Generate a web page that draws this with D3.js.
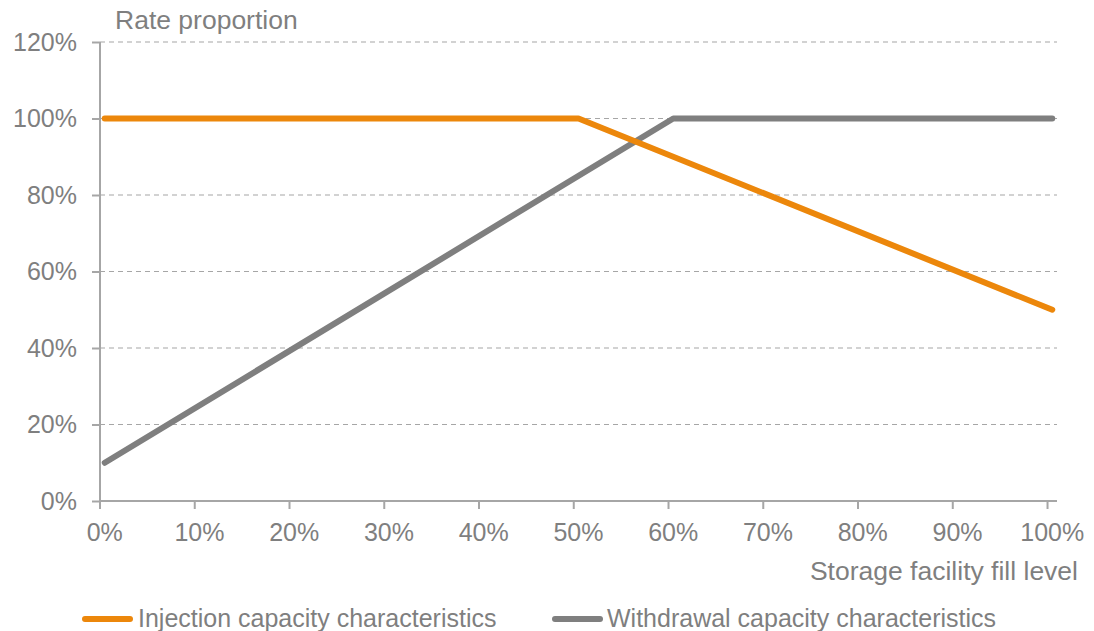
<!DOCTYPE html>
<html><head><meta charset="utf-8">
<script src="https://cdn.jsdelivr.net/npm/d3@7"></script>
<style>body{margin:0;background:#fff}svg{display:block;font-family:"Liberation Sans",Arial,sans-serif}</style>
</head><body>
<svg id="c" width="1094" height="631"></svg>
<script>
// Data (fill level in %, rate proportion in %)
const categories = d3.range(0, 101); // 0%..100% category axis
const xTickLabels = [0,10,20,30,40,50,60,70,80,90,100];
const yTickValues = [0,20,40,60,80,100,120];
const injectionX = [0, 50, 100];
const injectionY = [100, 100, 50];
const withdrawalX = [0, 60, 100];
const withdrawalY = [10, 100, 100];
const seriesNames = ["Injection capacity characteristics", "Withdrawal capacity characteristics"];
const seriesColors = ["#ec870b", "#7f7f7f"];

const svg = d3.select("#c");
const textColor = "#7f7f7f", axisColor = "#a6a6a6", fs = 25, titleFs = 26.5;

const x = d3.scaleBand().domain(categories).range([100, 1057]).padding(0);
const xc = v => x(v) + x.bandwidth() / 2;
const y = d3.scaleLinear().domain([0, 120]).range([501, 42]);

// gridlines
svg.append("g").selectAll("line").data(yTickValues.filter(v => v > 0)).join("line")
  .attr("x1", 100).attr("x2", 1057).attr("y1", d => y(d)).attr("y2", d => y(d))
  .attr("stroke", "#a6a6a6").attr("stroke-width", 1.2).attr("stroke-dasharray", "5,4");

// y axis
const yAxis = svg.append("g").attr("transform", "translate(100,0)")
  .call(d3.axisLeft(y).tickValues(yTickValues).tickFormat(d => d + "%").tickSize(8).tickPadding(15));
yAxis.select(".domain").remove();
yAxis.selectAll(".tick line").attr("stroke", axisColor).attr("stroke-width", 2);
yAxis.selectAll(".tick text").attr("fill", textColor).attr("font-size", fs).attr("font-family", "Liberation Sans, Arial, sans-serif");
svg.append("line").attr("x1", 100).attr("x2", 100).attr("y1", y(120)).attr("y2", y(0))
  .attr("stroke", axisColor).attr("stroke-width", 2);

// x axis
svg.append("line").attr("x1", 100).attr("x2", 1057).attr("y1", y(0)).attr("y2", y(0))
  .attr("stroke", axisColor).attr("stroke-width", 2);
const xg = svg.append("g");
xg.selectAll("line").data(xTickLabels).join("line")
  .attr("x1", d => x(d)).attr("x2", d => x(d)).attr("y1", y(0)).attr("y2", y(0) + 8)
  .attr("stroke", axisColor).attr("stroke-width", 2);
xg.selectAll("text").data(xTickLabels).join("text")
  .attr("x", d => xc(d)).attr("y", 541).attr("text-anchor", "middle")
  .attr("fill", textColor).attr("font-size", fs).text(d => d + "%");

// axis titles
svg.append("text").attr("x", 115).attr("y", 29).attr("fill", textColor).attr("font-size", titleFs).text("Rate proportion");
svg.append("text").attr("x", 1078).attr("y", 580).attr("text-anchor", "end").attr("fill", textColor).attr("font-size", titleFs).text("Storage facility fill level");

// lines
const line = d3.line().x(d => xc(d[0])).y(d => y(d[1]));
const series = [
  injectionX.map((v, i) => [v, injectionY[i]]),
  withdrawalX.map((v, i) => [v, withdrawalY[i]])
];
[1, 0].forEach(i => {
  svg.append("path").datum(series[i]).attr("d", line).attr("fill", "none")
    .attr("stroke", seriesColors[i]).attr("stroke-width", 6)
    .attr("stroke-linecap", "round").attr("stroke-linejoin", "round");
});

// legend
const legendPos = [{lx: 85, tx: 138}, {lx: 555, tx: 607}];
seriesNames.forEach((n, i) => {
  const p = legendPos[i];
  svg.append("line").attr("x1", p.lx).attr("x2", p.lx + 45).attr("y1", 619).attr("y2", 619)
    .attr("stroke", seriesColors[i]).attr("stroke-width", 6).attr("stroke-linecap", "round");
  svg.append("text").attr("x", p.tx).attr("y", 627).attr("fill", textColor).attr("font-size", fs).text(n);
});
</script>
</body></html>
